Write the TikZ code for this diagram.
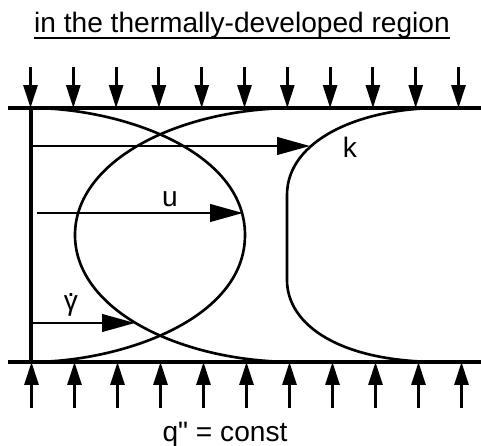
\documentclass[tikz,border=0pt]{standalone}
\usepackage{fontspec}
\newfontfamily\labelfont{Liberation Sans}
\usetikzlibrary{arrows.meta,calc}

\begin{document}
\begin{tikzpicture}[
    x=0.02cm, y=-0.02cm,
    every node/.style={font=\labelfont\fontsize{16}{19}\selectfont, inner sep=0pt, anchor=base},
    wall/.style={line width=1.8pt},
    profile/.style={line width=1.5pt},
    uline/.style={line width=1.1pt},
    flux/.style={line width=1.6pt, -{Triangle[length=0.46cm, width=0.28cm]}},
    arrow/.style={line width=1.5pt, -{Triangle[length=0.66cm, width=0.35cm]}}
]
    \useasboundingbox (0,0) rectangle (481,446);

    % title and heat flux label
    \node (title) at (242,33) {in the thermally-developed region};
    \draw[uline] ([yshift=-2.6pt]title.base west) -- ([yshift=-2.6pt]title.base east);
    \node (flux) at (225,442) {q" = const};

    % channel walls and axis
    \coordinate (topL) at (8,108);
    \coordinate (topR) at (481,108);
    \coordinate (botL) at (8,362);
    \coordinate (botR) at (481,362);
    \coordinate (axisT) at (31,108);
    \coordinate (axisB) at (31,362);
    \draw[wall] (topL) -- (topR);
    \draw[wall] (botL) -- (botR);
    \draw[wall] (axisT) -- (axisB);

    % uniform heat flux on both walls
    \foreach \i in {0,...,10} {
        \coordinate (qtop\i) at ({30.5+42.8*\i},67);
        \coordinate (wtop\i) at ({30.5+42.8*\i},108);
        \coordinate (qbot\i) at ({31.5+43*\i},408);
        \coordinate (wbot\i) at ({31.5+43*\i},362);
        \draw[flux] (qtop\i) -- (wtop\i);
        \draw[flux] (qbot\i) -- (wbot\i);
    }

    % profiles
    \draw[profile] (31,108) .. controls (120,108) and (245,150) .. (245,235)
        .. controls (245,320) and (120,362) .. (31,362);
    \draw[profile] (295,108) .. controls (180,108) and (75,160) .. (75,235)
        .. controls (75,310) and (180,362) .. (295,362);
    \draw[profile] (440,108) .. controls (360,108) and (287,140) .. (287,195)
        -- (287,280) .. controls (287,325) and (340,362) .. (440,362);

    % magnitude arrows
    \coordinate (kfrom) at (31,146);
    \coordinate (kto) at (310,146);
    \coordinate (ufrom) at (37,213);
    \coordinate (uto) at (243,213);
    \coordinate (gfrom) at (31,323);
    \coordinate (gto) at (135,323);
    \draw[arrow] (kfrom) -- (kto);
    \draw[arrow] (ufrom) -- (uto);
    \draw[arrow] (gfrom) -- (gto);

    \node (klabel) at (350,158) {k};
    \node (ulabel) at (170,207) {u};
    \node (glabel) at (71,311) {\rlap{\hspace{0.11em}\raisebox{0.5em}{.}}γ};
\end{tikzpicture}
\end{document}
